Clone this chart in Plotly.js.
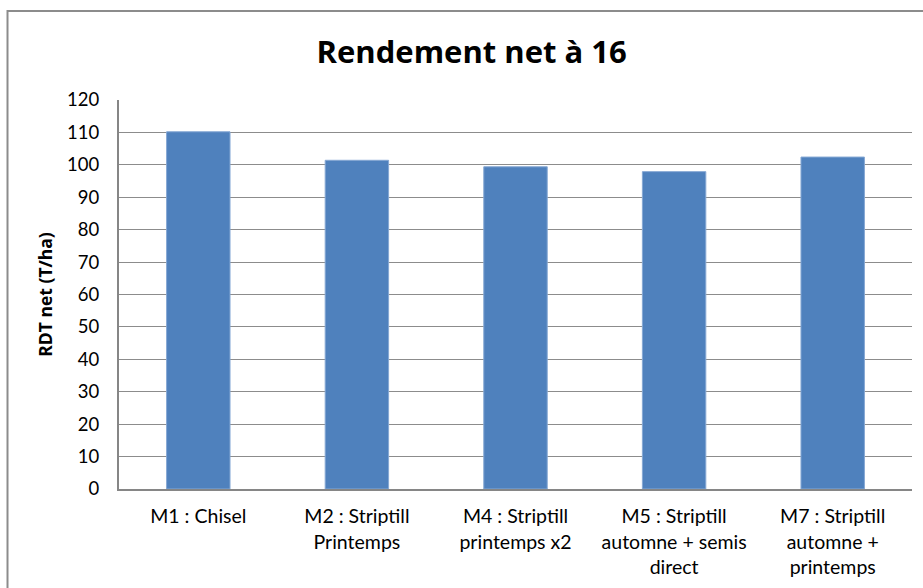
<!DOCTYPE html>
<html>
<head>
<meta charset="utf-8">
<script src="https://cdn.plot.ly/plotly-3.0.1.min.js"></script>
<style>html,body{margin:0;padding:0;background:#fff}#chart{width:923px;height:588px}</style>
</head>
<body>
<div id="chart"></div>
<script>
const categories = [
  "M1 : Chisel",
  "M2 : Striptill<br>Printemps",
  "M4 : Striptill<br>printemps x2",
  "M5 : Striptill<br>automne + semis<br>direct",
  "M7 : Striptill<br>automne +<br>printemps"
];
const rdtNet = [110.2, 101.4, 99.4, 97.9, 102.4];
const yTicks = [0,10,20,30,40,50,60,70,80,90,100,110,120];

const trace = {
  type: 'bar',
  x: categories,
  y: rdtNet,
  marker: {color: '#4F81BD', line: {color: '#86a8d4', width: 1}},
  hoverinfo: 'x+y'
};

const layout = {
  width: 923, height: 588,
  margin: {l: 119, r: 11, t: 100, b: 99},
  paper_bgcolor: '#ffffff',
  plot_bgcolor: '#ffffff',
  font: {family: 'Lato, "Open Sans", sans-serif', color: '#000000', size: 18},
  title: {
    text: '<b>Rendement net à 16</b>',
    font: {family: '"Open Sans", sans-serif', size: 31, color: '#000000'},
    x: 0.511, xref: 'container', xanchor: 'center',
    y: 0.911, yref: 'container', yanchor: 'middle'
  },
  bargap: 0.6,
  showlegend: false,
  xaxis: {
    type: 'category',
    showgrid: false,
    showline: true, linecolor: '#868686', linewidth: 2,
    ticks: '', ticklabelstandoff: 9,
    tickfont: {size: 19.5, color: '#000000'},
    fixedrange: true
  },
  yaxis: {
    range: [0, 120],
    tickvals: yTicks,
    ticktext: yTicks.map(String),
    showgrid: true, gridcolor: '#8c8c8c', gridwidth: 1,
    showline: true, linecolor: '#868686', linewidth: 2,
    zeroline: false,
    ticks: '', ticklabelstandoff: 14,
    tickfont: {size: 18.5, color: '#000000'},
    title: {text: '<b>RDT net (T/ha)</b>', font: {family: '"Open Sans", sans-serif', size: 17.5, color: '#000000'}, standoff: 10},
    fixedrange: true
  },
  shapes: [{
    type: 'rect', xref: 'paper', yref: 'paper',
    x0: -0.1406, x1: 1.05, y0: -0.3, y1: 1.2288,
    line: {color: '#8c8c8c', width: 2}, fillcolor: 'rgba(0,0,0,0)', layer: 'below'
  }]
};

Plotly.newPlot('chart', [trace], layout, {displayModeBar: false, staticPlot: true});
</script>
</body>
</html>
